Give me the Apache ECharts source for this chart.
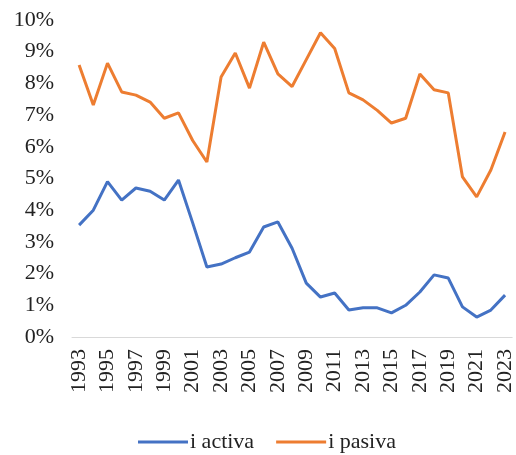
<!DOCTYPE html>
<html><head><meta charset="utf-8">
<script src="https://cdn.jsdelivr.net/npm/echarts@6/dist/echarts.min.js"></script>
<style>html,body{margin:0;padding:0;background:#fff}#c{width:516px;height:455px}</style>
</head><body><div id="c"></div>
<script>
const years = ['1993','1994','1995','1996','1997','1998','1999','2000','2001','2002','2003','2004','2005','2006','2007','2008','2009','2010','2011','2012','2013','2014','2015','2016','2017','2018','2019','2020','2021','2022','2023'];
const iActiva = [3.53,4.0,4.9,4.32,4.7,4.6,4.32,4.95,3.6,2.21,2.3,2.5,2.68,3.47,3.63,2.8,1.7,1.26,1.39,0.85,0.92,0.92,0.76,1.0,1.42,1.96,1.86,0.95,0.63,0.85,1.32];
const iPasiva = [8.58,7.32,8.64,7.73,7.63,7.41,6.9,7.07,6.2,5.52,8.2,8.96,7.85,9.3,8.3,7.9,8.75,9.6,9.1,7.7,7.48,7.15,6.75,6.9,8.3,7.8,7.7,5.05,4.42,5.27,6.47];
const seriesNames = ['i activa','i pasiva'];

const chart = echarts.init(document.getElementById('c'));
const font = 'Liberation Serif';
chart.setOption({
  animation: false,
  grid: {left: 72, top: 20, width: 444, height: 317},
  legend: {
    top: 426, left: 133, icon: 'rect', itemWidth: 50, itemHeight: 3, itemGap: 22,
    textStyle: {fontFamily: font, fontSize: 22, color: '#222', padding: [0,0,0,-3]},
    data: seriesNames
  },
  xAxis: {
    type: 'category', data: years, boundaryGap: true,
    axisLine: {lineStyle: {color: '#d9d9d9', width: 1}},
    axisTick: {show: false},
    axisLabel: {interval: 1, rotate: 90, fontFamily: font, fontSize: 22, color: '#222', margin: 12}
  },
  yAxis: {
    type: 'value', min: 0, max: 10, interval: 1,
    splitLine: {show: false},
    axisLine: {show: false}, axisTick: {show: false},
    axisLabel: {formatter: '{value}%', fontFamily: font, fontSize: 22, color: '#222', margin: 18}
  },
  series: [
    {name: seriesNames[0], type: 'line', data: iActiva, symbol: 'none', lineStyle: {color: '#4472C4', width: 3}, itemStyle: {color: '#4472C4'}},
    {name: seriesNames[1], type: 'line', data: iPasiva, symbol: 'none', lineStyle: {color: '#ED7D31', width: 3}, itemStyle: {color: '#ED7D31'}}
  ]
});
</script></body></html>
